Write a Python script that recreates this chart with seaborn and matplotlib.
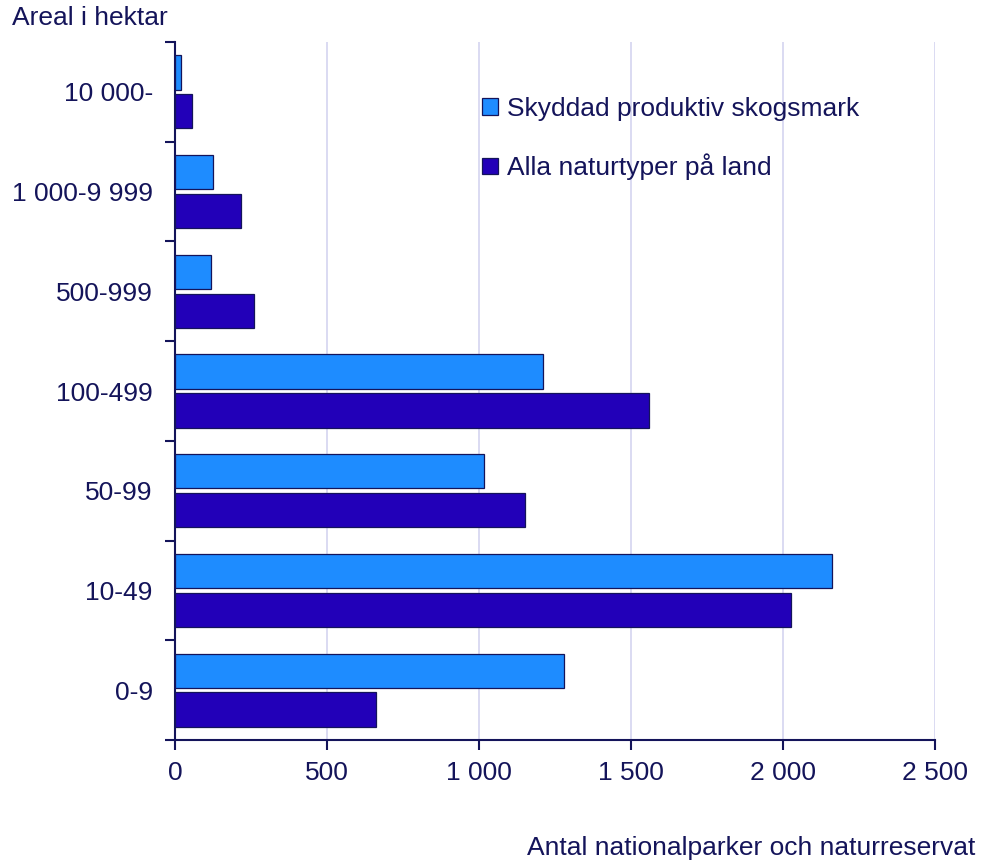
import pandas as pd
import matplotlib.pyplot as plt
import seaborn as sns
from matplotlib.ticker import FixedLocator

categories = ['10 000-', '1 000-9 999', '500-999', '100-499', '50-99', '10-49', '0-9']
skog_values = [20, 125, 118, 1210, 1016, 2161, 1280]
alla_values = [56, 217, 260, 1559, 1151, 2026, 661]
series_names = ['Skyddad produktiv skogsmark', 'Alla naturtyper på land']
x_ticks = [0, 500, 1000, 1500, 2000, 2500]
x_tick_labels = ['0', '500', '1 000', '1 500', '2 000', '2 500']

TEXT = '#14145a'
COLORS = ['#1e8cff', '#2200b8']
FS = 19

df = pd.DataFrame({
    'kategori': categories * 2,
    'antal': skog_values + alla_values,
    'serie': [series_names[0]] * len(categories) + [series_names[1]] * len(categories),
})

sns.set_theme(style='white')
plt.rcParams['font.family'] = ['Liberation Sans', 'DejaVu Sans']

fig = plt.figure(figsize=(9.86, 8.66), dpi=100)
ax = fig.add_axes([175 / 986, 1 - 740 / 866, 760 / 986, 698 / 866])

sns.barplot(data=df, x='antal', y='kategori', hue='serie', order=categories,
            hue_order=series_names, palette=COLORS, width=0.78, gap=0.12,
            edgecolor=TEXT, linewidth=0.9, saturation=1, ax=ax, zorder=3)

ax.set_xlim(0, 2500)
ax.set_ylim(len(categories) - 0.5, -0.5)
ax.set_xticks(x_ticks)
ax.set_xticklabels(x_tick_labels)
ax.grid(axis='x', color='#d4d4f0', linewidth=1.2, zorder=0)
ax.grid(axis='y', visible=False)
ax.set_axisbelow(True)

ax.yaxis.set_minor_locator(FixedLocator([i - 0.5 for i in range(len(categories) + 1)]))
ax.tick_params(axis='y', which='major', length=0, pad=16, labelsize=FS, labelcolor=TEXT)
ax.tick_params(axis='y', which='minor', length=7, width=1.5, color=TEXT, left=True)
ax.tick_params(axis='x', which='major', length=7, width=1.5, color=TEXT, bottom=True,
               direction='out', pad=8, labelsize=FS, labelcolor=TEXT)

for side in ['top', 'right']:
    ax.spines[side].set_visible(False)
for side in ['left', 'bottom']:
    ax.spines[side].set_color(TEXT)
    ax.spines[side].set_linewidth(1.5)

ax.set_xlabel('')
ax.set_ylabel('')

leg = ax.legend(loc='upper left', bbox_to_anchor=(0.39, 0.937), frameon=False,
                fontsize=FS, labelspacing=1.25, handlelength=0.6, handleheight=0.6,
                handletextpad=0.35, borderaxespad=0)
for t in leg.get_texts():
    t.set_color(TEXT)

fig.text(12 / 986, 1 - 18 / 866, 'Areal i hektar', fontsize=FS, color=TEXT,
         ha='left', va='center')
fig.text(975 / 986, 1 - 848 / 866, 'Antal nationalparker och naturreservat',
         fontsize=FS, color=TEXT, ha='right', va='center')

fig.savefig('out.png', dpi=100)
